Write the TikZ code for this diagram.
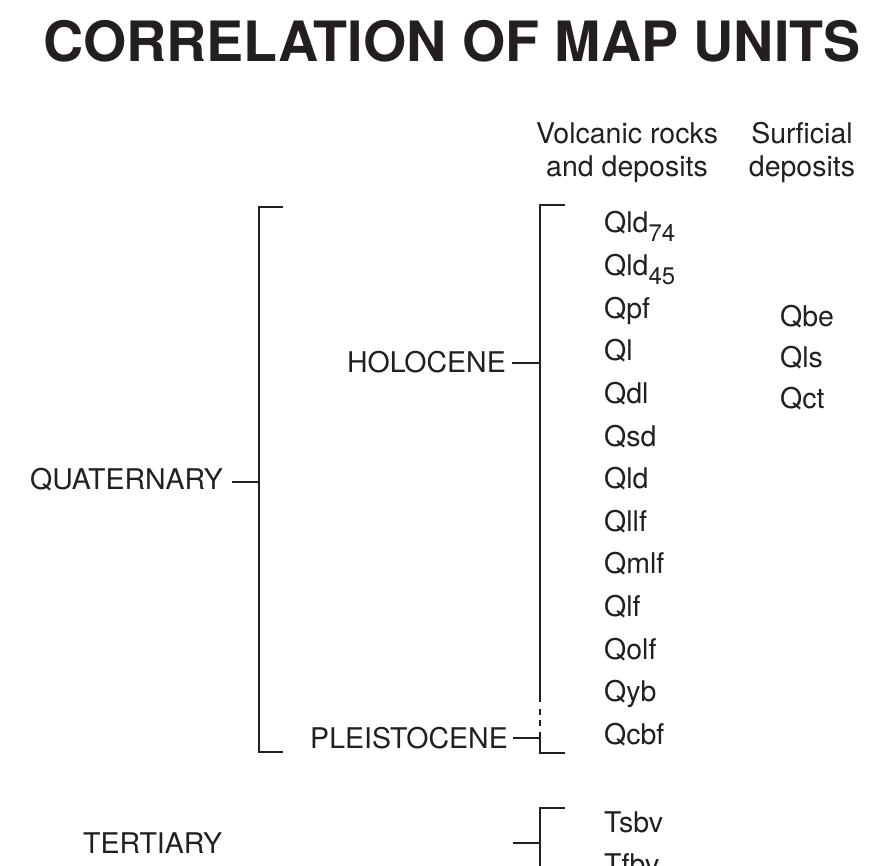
\documentclass[tikz,border=0pt]{standalone}
\usepackage{fontspec}
\setmainfont{TeX Gyre Heros}
\definecolor{ink}{HTML}{231F20}
\begin{document}
\begin{tikzpicture}[x=1pt,y=-1pt,
  lbl/.style={inner sep=0pt, font=\fontsize{28.5}{28.5}\selectfont, text=ink},
  ttl/.style={inner sep=0pt, font=\fontsize{55.6}{55.6}\selectfont\bfseries, text=ink},
  bar/.style={draw=ink, line width=2.5pt, line join=miter, line cap=butt}]
\useasboundingbox (0,0) rectangle (877,866);
\clip (0,0) rectangle (877,866);
\newcommand{\sbs}[1]{\raisebox{-9pt}{\fontsize{24}{24}\selectfont #1}}
% title
\node[ttl, anchor=base] (title) at (452,62) {CORRELATION OF MAP UNITS};
% headings
\node[lbl, anchor=base] (hv1) at (627,144) {Volcanic rocks};
\node[lbl, anchor=base] (hv2) at (627,177) {and deposits};
\node[lbl, anchor=base] (hs1) at (802,144) {Surficial};
\node[lbl, anchor=base] (hs2) at (802,177) {deposits};
% volcanic units
\foreach \t [count=\i from 0] in {Qld\sbs{74},Qld\sbs{45},Qpf,Ql,Qdl,Qsd,Qld,Qllf,Qmlf,Qlf,Qolf,Qyb,Qcbf}
  \node[lbl, anchor=base west] (v\i) at (604,{233+42.6*\i}) {\t};
% surficial units
\node[lbl, anchor=base west] (s0) at (780,326) {Qbe};
\node[lbl, anchor=base west] (s1) at (780,367) {Qls};
\node[lbl, anchor=base west] (s2) at (780,408) {Qct};
% tertiary units
\node[lbl, anchor=base west] (t0) at (604,832) {Tsbv};
\node[lbl, anchor=base west] (t1) at (604,874.6) {Tfbv};
% age labels
\node[lbl, anchor=base east] (quat) at (223,489) {QUATERNARY};
\node[lbl, anchor=base east] (holo) at (506,372) {HOLOCENE};
\node[lbl, anchor=base east] (plei) at (508,748) {PLEISTOCENE};
\node[lbl, anchor=base west] (tert) at (83,853) {TERTIARY};
% quaternary bracket
\coordinate (qa) at (283,207);
\coordinate (qb) at (259,207);
\coordinate (qc) at (259,752);
\coordinate (qd) at (283,752);
\coordinate (qj) at (259,482);
\coordinate (qk) at (232,482);
\draw[bar] (qa) -- (qb) -- (qc) -- (qd);
\draw[bar] (qk) -- (qj);
% holocene / pleistocene bracket
\coordinate (ha) at (565,205);
\coordinate (hb) at (540,205);
\coordinate (hc) at (540,702);
\coordinate (hd1) at (540,709);
\coordinate (hd2) at (540,715);
\coordinate (hd3) at (540,720);
\coordinate (hd4) at (540,726);
\coordinate (he) at (540,732);
\coordinate (hf) at (540,753);
\coordinate (hg) at (565,753);
\draw[bar] (ha) -- (hb) -- (hc);
\draw[bar] (hd1) -- (hd2);
\draw[bar] (hd3) -- (hd4);
\draw[bar] (he) -- (hf) -- (hg);
\coordinate (hj) at (540,363);
\coordinate (hk) at (512,363);
\draw[bar] (hk) -- (hj);
\coordinate (pj) at (540,738);
\coordinate (pk) at (513,738);
\draw[bar] (pk) -- (pj);
% tertiary bracket
\coordinate (ta) at (565,808);
\coordinate (tb) at (540,808);
\coordinate (tc) at (540,880);
\draw[bar] (ta) -- (tb) -- (tc);
\coordinate (tj) at (540,843);
\coordinate (tk) at (513,843);
\draw[bar] (tk) -- (tj);
\end{tikzpicture}
\end{document}
